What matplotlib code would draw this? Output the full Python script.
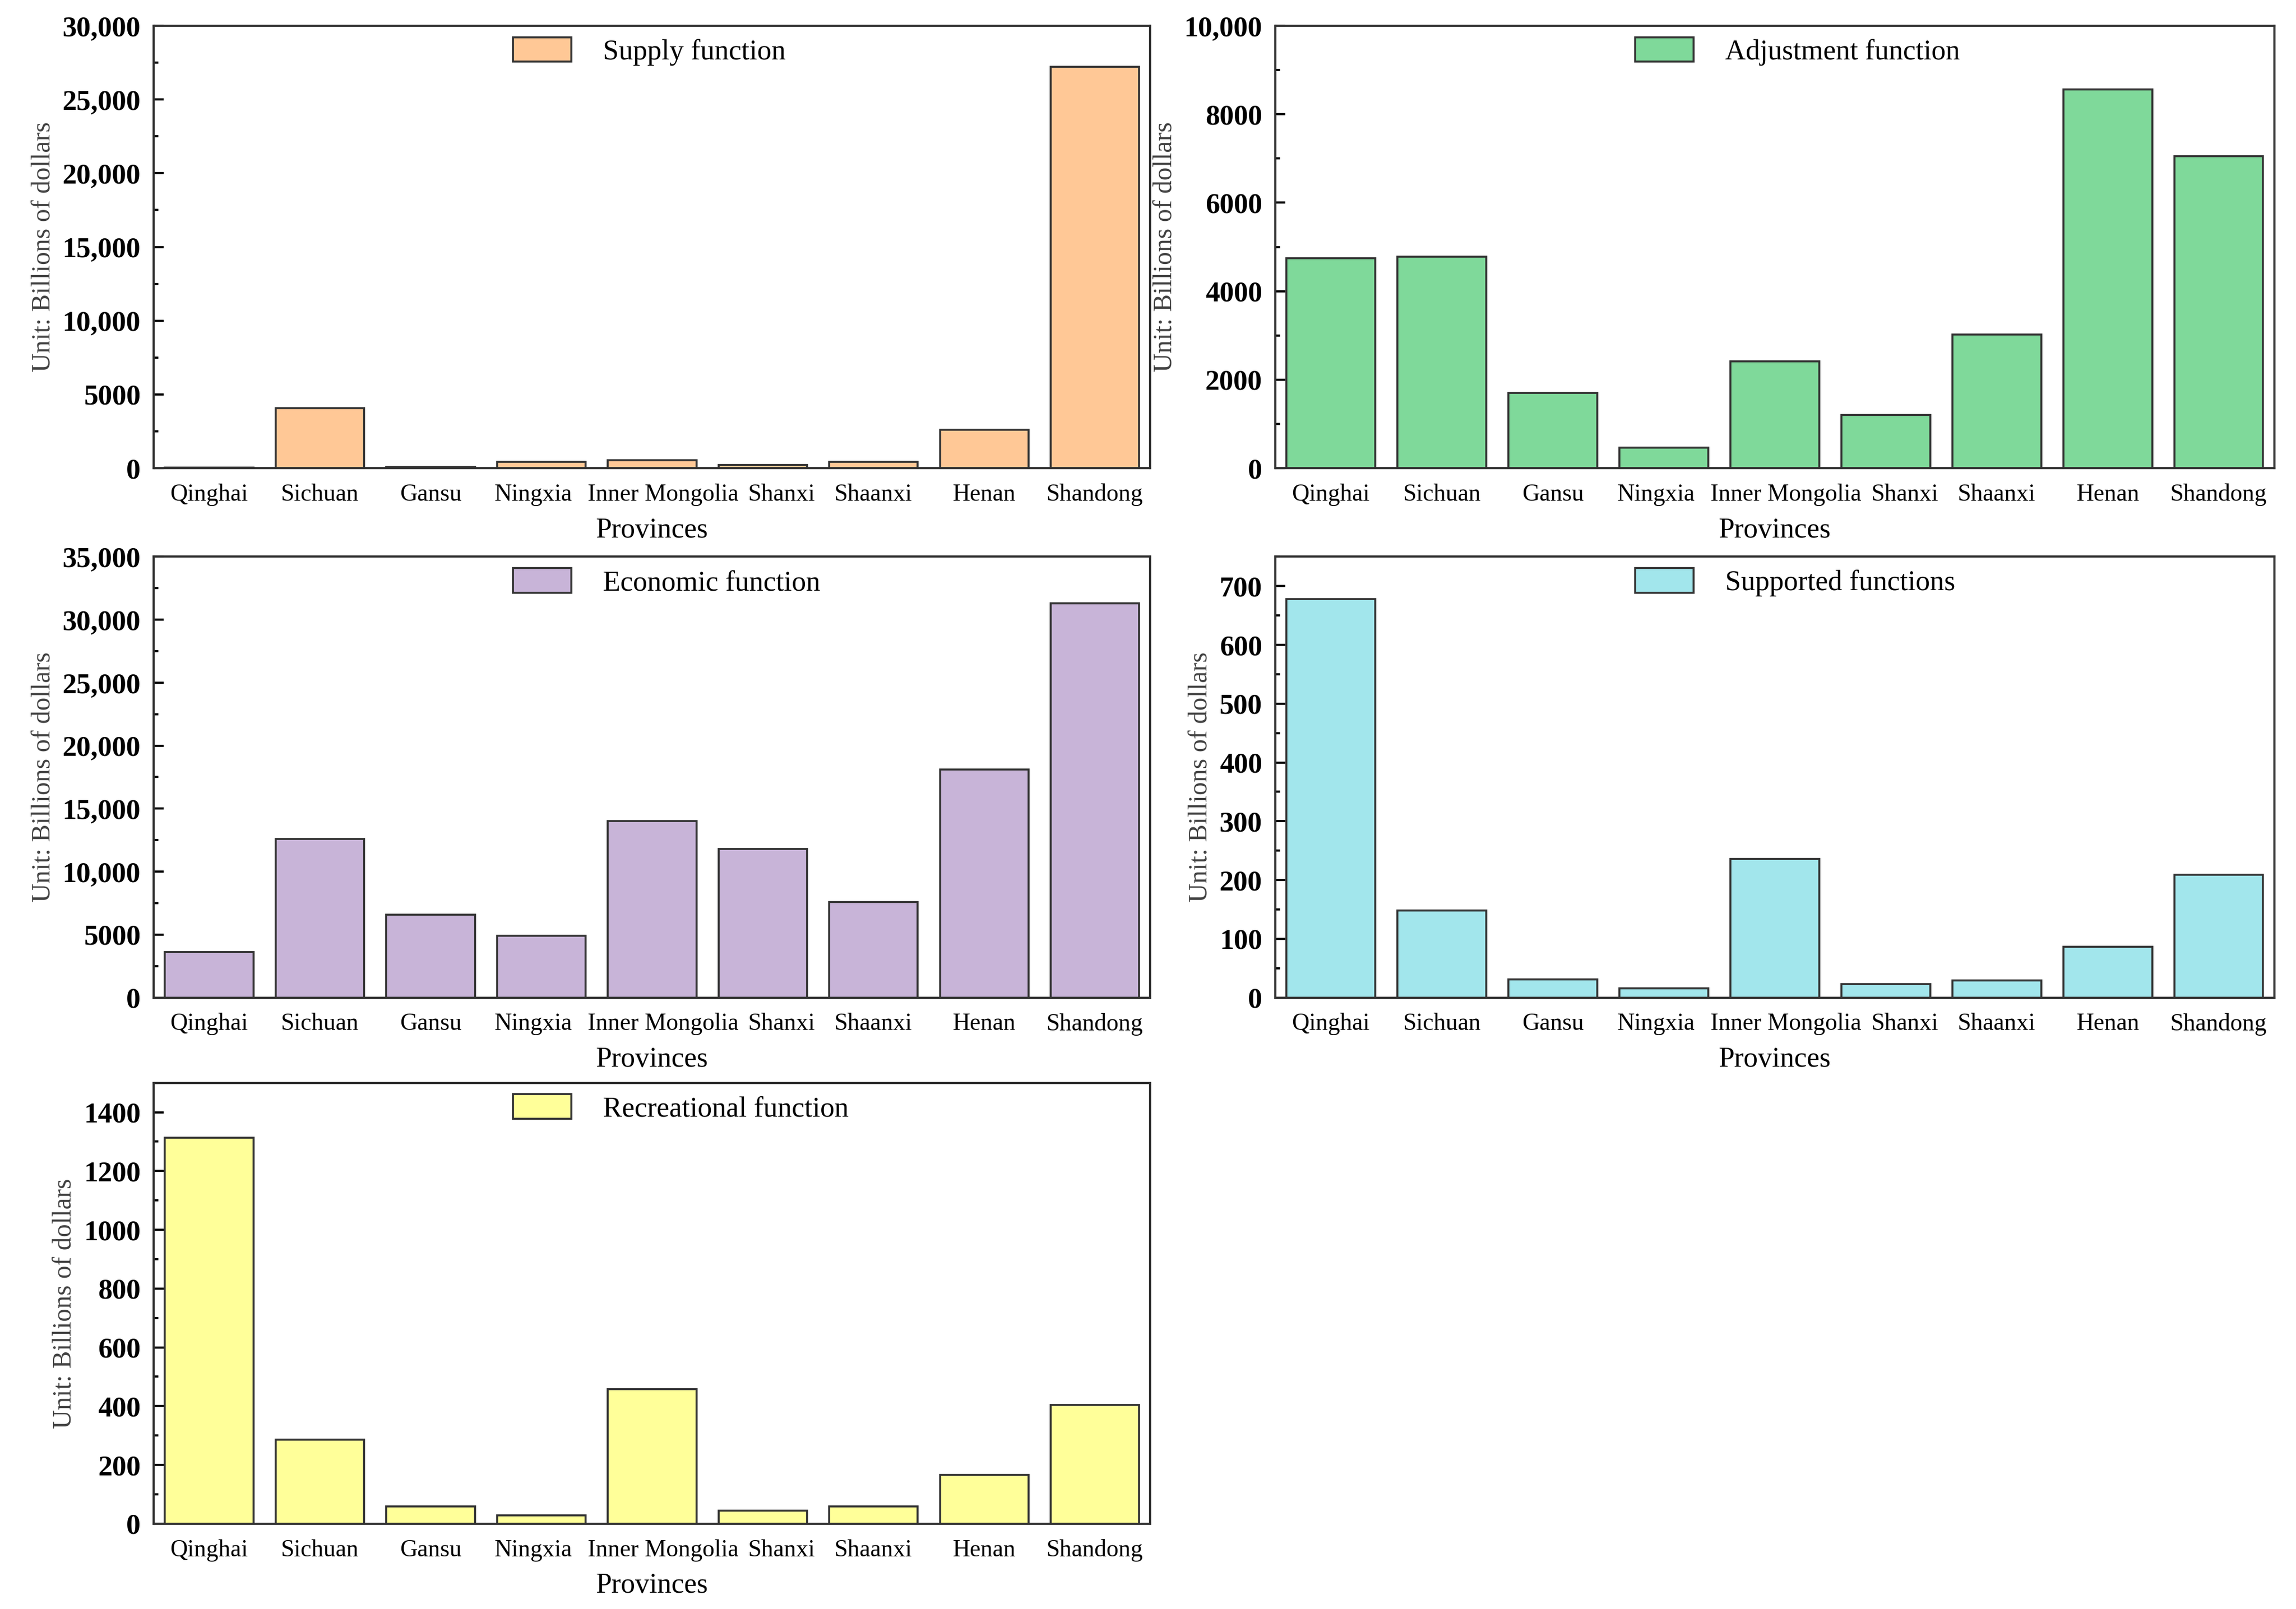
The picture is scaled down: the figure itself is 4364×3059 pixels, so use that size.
import matplotlib
matplotlib.use("Agg")
import matplotlib.pyplot as plt
import matplotlib.transforms as mtransforms
from matplotlib.ticker import MultipleLocator, FuncFormatter

plt.rcParams['font.family'] = ['Liberation Serif', 'DejaVu Serif']

# --- data ---
provinces = ["Qinghai", "Sichuan", "Gansu", "Ningxia", "Inner Mongolia",
             "Shanxi", "Shaanxi", "Henan", "Shandong"]

supply = [50, 4080, 80, 420, 540, 210, 420, 2600, 27200]
adjustment = [4750, 4780, 1700, 470, 2420, 1200, 3020, 8560, 7050]
economic = [3600, 12600, 6600, 4900, 14000, 11800, 7600, 18100, 31300]
supported = [678, 148, 31, 16, 236, 23, 29, 86, 209]
recreational = [1314, 287, 59, 28, 458, 44, 58, 167, 405]

# name, values, colour, ymax, major step, minor step
panels = [
    ("Supply function", supply, "#FFC896", 30000, 5000, 2500),
    ("Adjustment function", adjustment, "#7FD99A", 10000, 2000, 1000),
    ("Economic function", economic, "#C8B4D8", 35000, 5000, 2500),
    ("Supported functions", supported, "#A2E6EC", 750, 100, 50),
    ("Recreational function", recreational, "#FFFF99", 1500, 200, 100),
]

# axes boxes in figure fractions [left, bottom, width, height]
boxes = [
    [0.067, 0.709, 0.434, 0.275],
    [0.5555, 0.709, 0.435, 0.275],
    [0.067, 0.380, 0.434, 0.274],
    [0.5555, 0.380, 0.435, 0.274],
    [0.067, 0.053, 0.434, 0.274],
]

# small sideways nudges (inches) so the crowded labels don't collide
label_shift = {"Ningxia": -0.05, "Inner Mongolia": 0.07, "Shanxi": 0.12}


def fmt(v, pos):
    if v >= 10000:
        return f"{v:,.0f}"
    return f"{v:.0f}"


fig = plt.figure(figsize=(4364 / 300, 3059 / 300), dpi=300)

for (name, vals, color, ymax, major, minor), box in zip(panels, boxes):
    ax = fig.add_axes(box)
    x = list(range(len(provinces)))
    ax.bar(x, vals, width=0.8, color=color, edgecolor="#333333",
           linewidth=0.9, label=name)
    ax.set_xlim(-0.5, len(provinces) - 0.5)
    ax.set_ylim(0, ymax)
    ax.set_xticks(x)
    ax.set_xticklabels(provinces, fontsize=11)
    ax.tick_params(axis="x", length=0, pad=7)
    for lab in ax.get_xticklabels():
        dx = label_shift.get(lab.get_text(), 0)
        if dx:
            off = mtransforms.ScaledTranslation(dx, 0, fig.dpi_scale_trans)
            lab.set_transform(lab.get_transform() + off)

    ax.yaxis.set_major_locator(MultipleLocator(major))
    ax.yaxis.set_minor_locator(MultipleLocator(minor))
    ax.yaxis.set_major_formatter(FuncFormatter(fmt))
    ax.tick_params(axis="y", which="major", direction="in", length=4.5,
                   width=1.0, pad=6, labelsize=13)
    ax.tick_params(axis="y", which="minor", direction="in", length=2.2,
                   width=1.0)
    for lab in ax.get_yticklabels():
        lab.set_fontweight("bold")

    for sp in ax.spines.values():
        sp.set_linewidth(1.0)
        sp.set_color("#333333")

    ax.set_xlabel("Provinces", fontsize=13, labelpad=5)
    ax.set_ylabel("Unit: Billions of dollars", fontsize=12, color="#404040",
                  labelpad=3)

    ax.legend(loc="upper left", bbox_to_anchor=(0.349, 1.0), borderaxespad=0,
              frameon=False, fontsize=13, handlelength=2.05,
              handleheight=0.95, handletextpad=1.1)

fig.savefig("out.png", dpi=300, facecolor="white")
